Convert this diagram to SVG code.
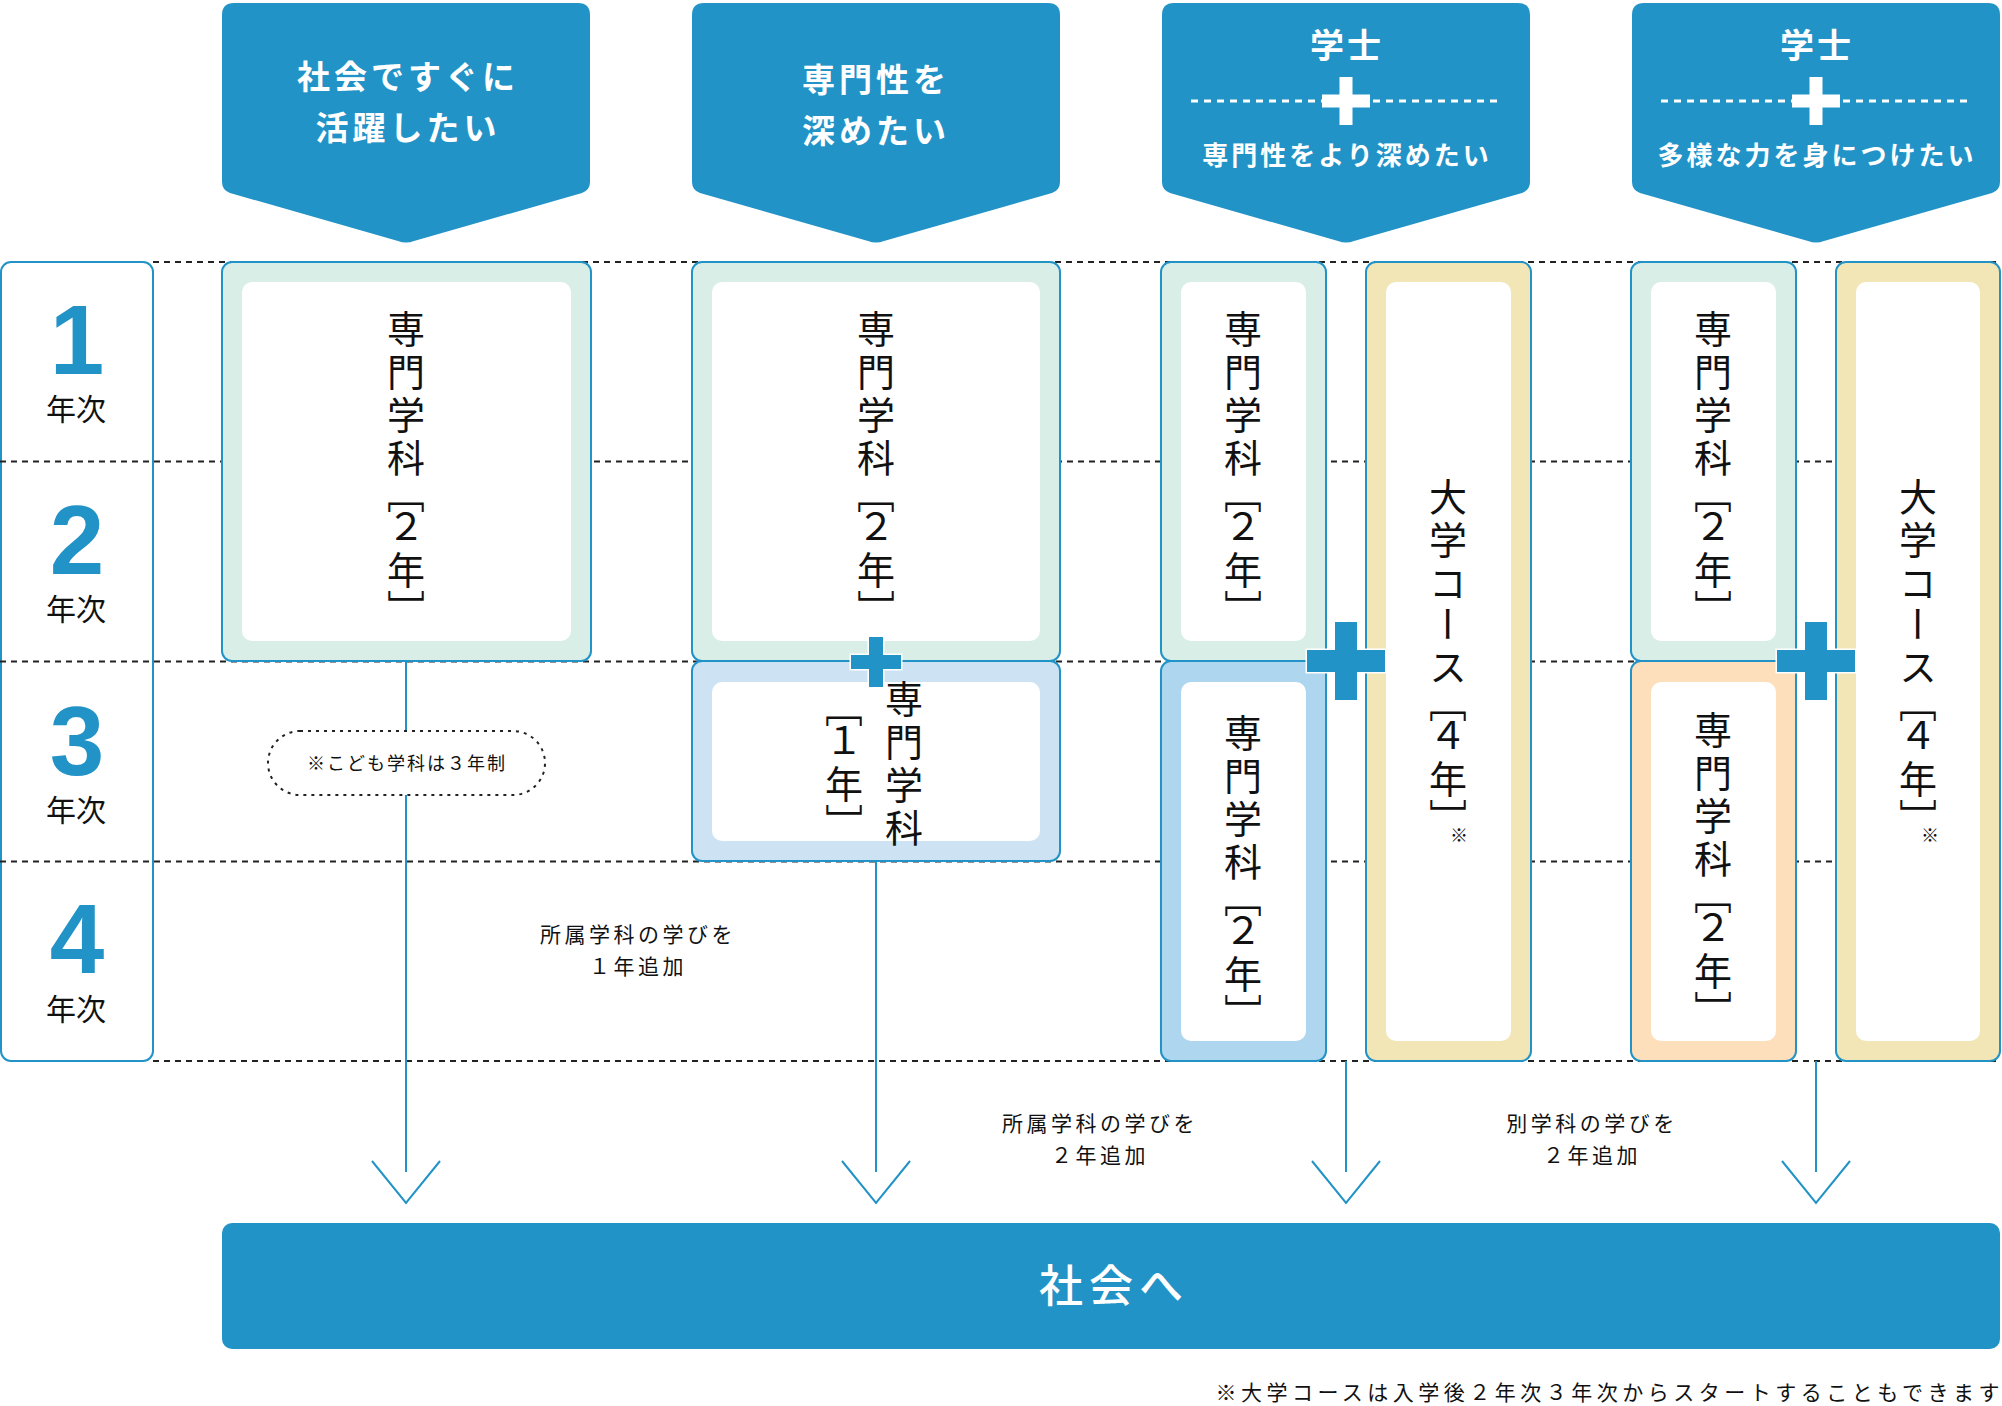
<svg xmlns="http://www.w3.org/2000/svg" xmlns:xlink="http://www.w3.org/1999/xlink" width="2002" height="1406" viewBox="0 0 2002 1406">
  <style>
    .blue{fill:#2293c7}
    .ht{font-family:"Noto Sans CJK JP","Noto Sans",sans-serif;font-weight:700;fill:#fff;text-anchor:middle}
    .box{stroke:#2293c7;stroke-width:2}
    .g{fill:#d8eee6}
    .b1{fill:#cde3f4}
    .b2{fill:#aed6ee}
    .y{fill:#f2e6b6}
    .o{fill:#fedfbb}
    .in{fill:#fff}
    .vt{font-family:"Noto Sans CJK JP","Noto Sans",sans-serif;font-size:38px;fill:#111;writing-mode:vertical-rl}
    .note{font-family:"Noto Sans CJK JP","Noto Sans",sans-serif;fill:#111}
    .grid{stroke:#222;stroke-width:2;stroke-dasharray:6 5;fill:none}
    .conn{stroke:#2293c7;stroke-width:2;fill:none}
    .plus{fill:#2293c7;stroke:#fff;stroke-width:3;paint-order:stroke}
    .wdot{stroke:#fff;stroke-width:3;stroke-dasharray:7 6}
    .num{font-family:"Liberation Sans",Arial,sans-serif;font-weight:700;font-size:98px;fill:#2293c7;text-anchor:middle}
    .yr{font-family:"Noto Sans CJK JP","Noto Sans",sans-serif;font-size:30px;fill:#111;text-anchor:middle}
  </style>
  <defs>
    <!-- banner with a pointed bottom, 368 wide, tip 184 from the left -->
    <path id="banner" d="M12,3 H356 Q368,3 368,15 V182 Q368,190 360,193 L192,241 Q184,244 176,241 L8,193 Q0,190 0,182 V15 Q0,3 12,3 Z"/>
    <path id="plusS" d="M-7,-25h14v18h18v14h-18v18h-14v-18h-18v-14h18z"/>
    <path id="plusL" d="M-11,-39h22v28h28v22h-28v28h-22v-28h-28v-22h28z"/>
    <path id="plusW" d="M-6.5,-24h13v17.5h17.5v13h-17.5v17.5h-13v-17.5h-17.5v-13h17.5z" fill="#fff"/>
    <marker id="vhead" markerUnits="userSpaceOnUse" orient="auto" refX="0" refY="0" markerWidth="90" markerHeight="90" viewBox="-20 -45 70 90" overflow="visible">
      <path d="M-11,-34 L31,0 L-11,34" fill="none" stroke="#2293c7" stroke-width="2"/>
    </marker>
  </defs>

  <!-- year column -->
  <g id="years">
    <rect x="1" y="262" width="152" height="799" rx="10" fill="#fff" class="box"/>
    <text class="num" x="77" y="374">1</text>
    <text class="yr" x="76" y="420">年次</text>
    <text class="num" x="77" y="574">2</text>
    <text class="yr" x="76" y="620">年次</text>
    <text class="num" x="77" y="775">3</text>
    <text class="yr" x="76" y="821">年次</text>
    <text class="num" x="77" y="973">4</text>
    <text class="yr" x="76" y="1020">年次</text>
  </g>

  <!-- year grid -->
  <g id="grid">
    <line class="grid" x1="153" y1="262" x2="2000" y2="262"/>
    <line class="grid" x1="0" y1="461.5" x2="2000" y2="461.5"/>
    <line class="grid" x1="0" y1="661.5" x2="2000" y2="661.5"/>
    <line class="grid" x1="0" y1="861.5" x2="2000" y2="861.5"/>
    <line class="grid" x1="153" y1="1061" x2="2000" y2="1061"/>
  </g>

  <!-- goal banners -->
  <g id="goal-work">
    <use href="#banner" x="222" y="0" class="blue"/>
    <text class="ht" x="408" y="89" font-size="33" letter-spacing="4">社会ですぐに</text>
    <text class="ht" x="408" y="140" font-size="33" letter-spacing="4">活躍したい</text>
  </g>
  <g id="goal-specialize">
    <use href="#banner" x="692" y="0" class="blue"/>
    <text class="ht" x="876" y="92" font-size="33" letter-spacing="4">専門性を</text>
    <text class="ht" x="876" y="143" font-size="33" letter-spacing="4">深めたい</text>
  </g>
  <g id="goal-degree-deep">
    <use href="#banner" x="1162" y="0" class="blue"/>
    <text class="ht" x="1347" y="58" font-size="34" letter-spacing="3">学士</text>
    <line class="wdot" x1="1191" y1="101" x2="1502" y2="101"/>
    <use href="#plusW" x="1346" y="101"/>
    <text class="ht" x="1347" y="165" font-size="26" letter-spacing="3">専門性をより深めたい</text>
  </g>
  <g id="goal-degree-broad">
    <use href="#banner" x="1632" y="0" class="blue"/>
    <text class="ht" x="1817" y="58" font-size="34" letter-spacing="3">学士</text>
    <line class="wdot" x1="1661" y1="101" x2="1972" y2="101"/>
    <use href="#plusW" x="1816" y="101"/>
    <text class="ht" x="1817" y="165" font-size="26" letter-spacing="3">多様な力を身につけたい</text>
  </g>

  <!-- connectors -->
  <g id="connectors">
    <line class="conn" x1="406" y1="661" x2="406" y2="731"/>
    <line class="conn" x1="406" y1="795" x2="406" y2="1172" marker-end="url(#vhead)"/>
    <line class="conn" x1="876" y1="861" x2="876" y2="1172" marker-end="url(#vhead)"/>
    <line class="conn" x1="1346" y1="1061" x2="1346" y2="1172" marker-end="url(#vhead)"/>
    <line class="conn" x1="1816" y1="1061" x2="1816" y2="1172" marker-end="url(#vhead)"/>
  </g>

  <!-- course 1 -->
  <g id="dept-2y-a">
    <rect x="222" y="262" width="369" height="399" rx="10" class="box g"/>
    <rect x="242" y="282" width="329" height="359" rx="10" class="in"/>
    <text class="vt" x="406" y="310 353 396 439 475 507 551 590">専門学科﹇２年﹈</text>
  </g>
  <g id="note-kodomo">
    <rect x="268" y="731" width="277" height="64" rx="32" fill="#fff" stroke="#222" stroke-width="2" stroke-dasharray="3 5"/>
    <text class="note" x="407" y="770" font-size="18" letter-spacing="2" text-anchor="middle">※こども学科は３年制</text>
  </g>

  <!-- course 2 -->
  <g id="dept-2y-b">
    <rect x="692" y="262" width="368" height="399" rx="10" class="box g"/>
    <rect x="712" y="282" width="328" height="359" rx="10" class="in"/>
    <text class="vt" x="876" y="310 353 396 439 475 507 551 590">専門学科﹇２年﹈</text>
  </g>
  <g id="dept-1y-b">
    <rect x="692" y="661" width="368" height="200" rx="10" class="box b1"/>
    <rect x="712" y="682" width="328" height="159" rx="10" class="in"/>
    <text class="vt" x="904" y="680 723 766 809">専門学科</text>
    <text class="vt" x="844" y="689 721 765 804">﹇１年﹈</text>
  </g>

  <!-- course 3 -->
  <g id="dept-2y-c">
    <rect x="1161" y="262" width="165" height="399" rx="10" class="box g"/>
    <rect x="1181" y="282" width="125" height="359" rx="10" class="in"/>
    <text class="vt" x="1243" y="310 353 396 439 475 507 551 590">専門学科﹇２年﹈</text>
  </g>
  <g id="dept-2y-c2">
    <rect x="1161" y="661" width="165" height="400" rx="10" class="box b2"/>
    <rect x="1181" y="682" width="125" height="359" rx="10" class="in"/>
    <text class="vt" x="1243" y="714 757 800 843 879 911 955 994">専門学科﹇２年﹈</text>
  </g>
  <g id="univ-c">
    <rect x="1366" y="262" width="165" height="799" rx="10" class="box y"/>
    <rect x="1386" y="282" width="125" height="759" rx="10" class="in"/>
    <text class="vt" x="1448" y="478 521 564 605 648 684 716 760 799">大学コース﹇４年﹈</text>
    <text class="note" x="1459" y="842" font-size="18" text-anchor="middle">※</text>
  </g>

  <!-- course 4 -->
  <g id="dept-2y-d">
    <rect x="1631" y="262" width="165" height="399" rx="10" class="box g"/>
    <rect x="1651" y="282" width="125" height="359" rx="10" class="in"/>
    <text class="vt" x="1713" y="310 353 396 439 475 507 551 590">専門学科﹇２年﹈</text>
  </g>
  <g id="dept-other-d">
    <rect x="1631" y="661" width="165" height="400" rx="10" class="box o"/>
    <rect x="1651" y="682" width="125" height="359" rx="10" class="in"/>
    <text class="vt" x="1713" y="711 754 797 840 876 908 952 991">専門学科﹇２年﹈</text>
  </g>
  <g id="univ-d">
    <rect x="1836" y="262" width="164" height="799" rx="10" class="box y"/>
    <rect x="1856" y="282" width="124" height="759" rx="10" class="in"/>
    <text class="vt" x="1918" y="478 521 564 605 648 684 716 760 799">大学コース﹇４年﹈</text>
    <text class="note" x="1930" y="842" font-size="18" text-anchor="middle">※</text>
  </g>

  <!-- joins -->
  <g id="joins">
    <use href="#plusS" x="876" y="662" class="plus"/>
    <use href="#plusL" x="1346" y="661" class="plus"/>
    <use href="#plusL" x="1816" y="661" class="plus"/>
  </g>

  <!-- path labels -->
  <g id="labels" class="note" font-size="21" letter-spacing="3.5" text-anchor="middle">
    <text x="638" y="942">所属学科の学びを</text>
    <text x="638" y="974">１年追加</text>
    <text x="1100" y="1131">所属学科の学びを</text>
    <text x="1100" y="1163">２年追加</text>
    <text x="1592" y="1131">別学科の学びを</text>
    <text x="1592" y="1163">２年追加</text>
  </g>

  <!-- destination -->
  <g id="society">
    <rect x="222" y="1223" width="1778" height="126" rx="10" class="blue"/>
    <text x="1114" y="1302" font-family="'Noto Sans CJK JP','Noto Sans',sans-serif" font-size="44" font-weight="500" letter-spacing="6" fill="#fff" text-anchor="middle">社会へ</text>
  </g>

  <text id="footnote" class="note" x="2004" y="1400" font-size="21" letter-spacing="4.5" text-anchor="end">※大学コースは入学後２年次３年次からスタートすることもできます</text>
</svg>
